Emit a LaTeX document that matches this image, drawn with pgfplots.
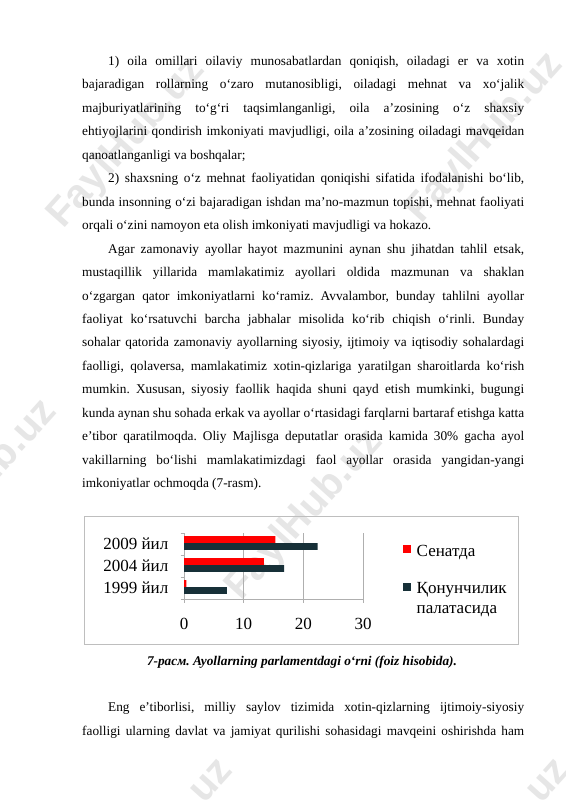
\documentclass[border=0pt]{standalone}
\usepackage{fontspec}
\setmainfont{Liberation Serif}[Ligatures={TeX,CommonOff}]
\newfontfamily\wmfont{Liberation Sans}
\usepackage{pgfplots}
\pgfplotsset{compat=1.18}
\frenchspacing
\definecolor{senred}{RGB}{255,0,0}
\definecolor{qondark}{RGB}{23,48,56}
\definecolor{wm}{RGB}{230,230,230}
\definecolor{boxgray}{RGB}{190,190,190}
\definecolor{gridgray}{RGB}{175,175,175}
\newcommand\fs{\fontsize{13.3pt}{16pt}\selectfont}
\newcommand\jl[2]{\node[anchor=base west,inner sep=0pt,font=\fs] at (82pt,-#1pt) {\makebox[442pt][s]{#2}};}
\newcommand\jli[2]{\node[anchor=base west,inner sep=0pt,font=\fs] at (108pt,-#1pt) {\makebox[416pt][s]{#2}};}
\newcommand\lastl[2]{\node[anchor=base west,inner sep=0pt,font=\fs] at (82pt,-#1pt) {#2};}
\pgfplotsset{sq legend/.style={legend image code/.code={\fill[##1] (0pt,3pt) rectangle (8pt,11pt);}}}
\begin{document}
\begin{tikzpicture}
\path[use as bounding box, fill=white] (0,0) rectangle (565pt,-800pt);
\begin{scope}
\clip (0,0) rectangle (565pt,-800pt);
\foreach \x/\y in {127/143, 485/138, 305/515, -21/485, 155/844, 492/844}
  \node[rotate=48, text=wm, font=\wmfont\bfseries\fontsize{40pt}{40pt}\selectfont] at (\x pt,-\y pt) {FaylHub.uz};
\end{scope}
\jli{65.5}{1) oila omillari oilaviy munosabatlardan qoniqish, oiladagi er va xotin}
\jl{88.95}{bajaradigan rollarning o‘zaro mutanosibligi, oiladagi mehnat va xo‘jalik}
\jl{112.4}{majburiyatlarining to‘g‘ri taqsimlanganligi, oila a’zosining o‘z shaxsiy}
\jl{135.85}{ehtiyojlarini qondirish imkoniyati mavjudligi, oila a’zosining oiladagi mavqeidan}
\lastl{159.3}{qanoatlanganligi va boshqalar;}
\jli{182.75}{2) shaxsning o‘z mehnat faoliyatidan qoniqishi sifatida ifodalanishi bo‘lib,}
\jl{206.2}{bunda insonning o‘zi bajaradigan ishdan ma’no-mazmun topishi, mehnat faoliyati}
\lastl{229.65}{orqali o‘zini namoyon eta olish imkoniyati mavjudligi va hokazo.}
\jli{253.1}{Agar zamonaviy ayollar hayot mazmunini aynan shu jihatdan tahlil etsak,}
\jl{276.55}{mustaqillik yillarida mamlakatimiz ayollari oldida mazmunan va shaklan}
\jl{300.0}{o‘zgargan qator imkoniyatlarni ko‘ramiz. Avvalambor, bunday tahlilni ayollar}
\jl{323.45}{faoliyat ko‘rsatuvchi barcha jabhalar misolida ko‘rib chiqish o‘rinli. Bunday}
\jl{346.9}{sohalar qatorida zamonaviy ayollarning siyosiy, ijtimoiy va iqtisodiy sohalardagi}
\jl{370.35}{faolligi, qolaversa, mamlakatimiz xotin-qizlariga yaratilgan sharoitlarda ko‘rish}
\jl{393.8}{mumkin. Xususan, siyosiy faollik haqida shuni qayd etish mumkinki, bugungi}
\jl{417.25}{kunda aynan shu sohada erkak va ayollar o‘rtasidagi farqlarni bartaraf etishga katta}
\jl{440.7}{e’tibor qaratilmoqda. Oliy Majlisga deputatlar orasida kamida 30\% gacha ayol}
\jl{464.15}{vakillarning bo‘lishi mamlakatimizdagi faol ayollar orasida yangidan-yangi}
\lastl{487.6}{imkoniyatlar ochmoqda (7-rasm).}
\jli{711}{Eng e’tiborlisi, milliy saylov tizimida xotin-qizlarning ijtimoiy-siyosiy}
\jl{735}{faolligi ularning davlat va jamiyat qurilishi sohasidagi mavqeini oshirishda ham}
\draw[boxgray, line width=0.9pt] (84pt,-516pt) rectangle (518pt,-644pt);
\begin{axis}[
  at={(184pt,-599pt)}, anchor=south west,
  scale only axis, width=179pt, height=66pt,
  xmin=0, xmax=30, ymin=-0.5, ymax=2.5,
  xtick={0,10,20,30},
  ytick={-0.5,0.5,1.5,2.5},
  y tick label as interval,
  yticklabels={1999 йил,2004 йил,2009 йил},
  axis x line*=bottom, axis y line*=left,
  axis line style={gridgray,-},
  xmajorgrids, major grid style={gridgray, line width=0.5pt},
  tick align=outside, major tick length=3.5pt,
  tick style={gridgray, line width=0.5pt},
  /pgf/number format/assume math mode=true,
  ticklabel style={font=\fontsize{17pt}{20pt}\selectfont, inner sep=0pt},
  yticklabel style={xshift=-12pt},
  xticklabel style={yshift=-15.5pt},
  legend style={at={(1.2235,0.8636)}, anchor=north west, draw=none, fill=none,
    inner sep=0pt, outer sep=0pt, row sep=22pt, column sep=5.7pt,
    font=\fontsize{17pt}{20pt}\selectfont,
    nodes={inner sep=0pt, outer sep=0pt}, cells={anchor=base west}},
]
\addplot[xbar, bar width=6.8pt, bar shift=4.4pt, fill=senred, draw=none, sq legend]
  coordinates {(0.4,0) (13.4,1) (15.3,2)};
\addlegendentry{\rule[-6pt]{0pt}{20pt}Сенатда}
\addplot[xbar, bar width=6.8pt, bar shift=-2.4pt, fill=qondark, draw=none, sq legend]
  coordinates {(7.2,0) (16.8,1) (22.4,2)};
\addlegendentry{\begin{tabular}[t]{@{}l@{}}Қонунчилик\\палатасида\end{tabular}}
\end{axis}
\node[anchor=base, inner sep=0pt, font=\fs\bfseries\itshape] at (302pt,-665pt) {7-расм. Ayollarning parlamentdagi o‘rni (foiz hisobida).};
\end{tikzpicture}
\end{document}
